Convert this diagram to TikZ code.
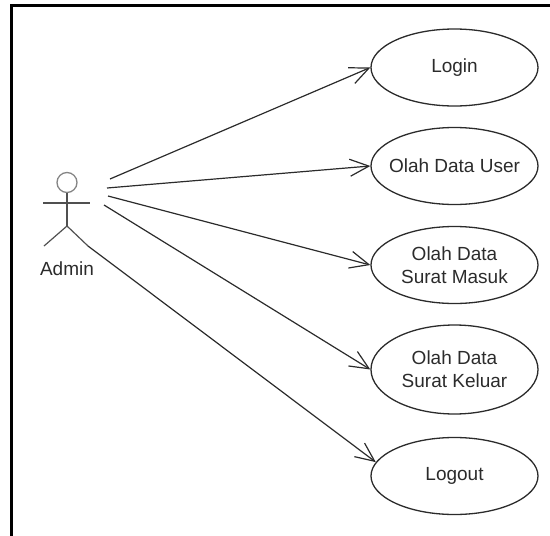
\documentclass[tikz,border=0pt]{standalone}
\usepackage{fontspec}
\setmainfont{Liberation Sans}
\usetikzlibrary{shapes.geometric,arrows.meta}
\definecolor{inkgray}{HTML}{2B2B2B}
\definecolor{headgray}{HTML}{858585}
\definecolor{actorgray}{HTML}{505050}
\begin{document}
\begin{tikzpicture}[x=1pt,y=-1pt,
    usecase/.style={ellipse,draw=inkgray,line width=1.3pt,minimum width=167pt,minimum height=77pt,
      inner xsep=-20pt,inner ysep=0pt,align=center,text=inkgray,font=\fontsize{19}{23}\selectfont},
    assoc/.style={draw=inkgray,line width=1.2pt,-{Straight Barb[length=19pt,width=17pt]}},
    limb/.style={draw=actorgray,line width=1.2pt}]
\useasboundingbox (0,0) rectangle (550,536);
\draw[line width=2.6pt] (11.7,536) -- (11.7,5.3) -- (550,5.3);
% actor
\node[circle,draw=headgray,line width=1.3pt,minimum size=20pt,inner sep=0pt] (head) at (67,182.5) {};
\coordinate (lhand) at (43,203);
\coordinate (rhand) at (90,203);
\coordinate (hip) at (67,226);
\coordinate (lfoot) at (44,246);
\coordinate (rfoot) at (88,246);
\draw[limb] (lhand) -- (rhand);
\draw[limb] (head.south) -- (hip);
\draw[limb] (lfoot) -- (hip) -- (rfoot);
\node[text=inkgray,font=\fontsize{19}{23}\selectfont] (admin) at (67,269) {Admin};
% use cases
\node[usecase] (login) at (454.5,67.5) {Login};
\node[usecase] (user) at (454.5,166) {Olah Data User};
\node[usecase] (masuk) at (454.5,265) {Olah Data\\Surat Masuk};
\node[usecase,minimum height=89pt] (keluar) at (454.5,369.5) {Olah Data\\Surat Keluar};
\node[usecase] (logout) at (454.5,476) {Logout};
% associations
\coordinate (a1) at (110,179);
\coordinate (a2) at (107,188);
\coordinate (a3) at (108,196);
\coordinate (a4) at (104,205);
\draw[assoc] (a1) -- (login.west);
\draw[assoc] (a2) -- (user.west);
\draw[assoc] (a3) -- (masuk.west);
\draw[assoc] (a4) -- (keluar.west);
\draw[assoc] (rfoot) -- (logout.170);
\end{tikzpicture}
\end{document}
